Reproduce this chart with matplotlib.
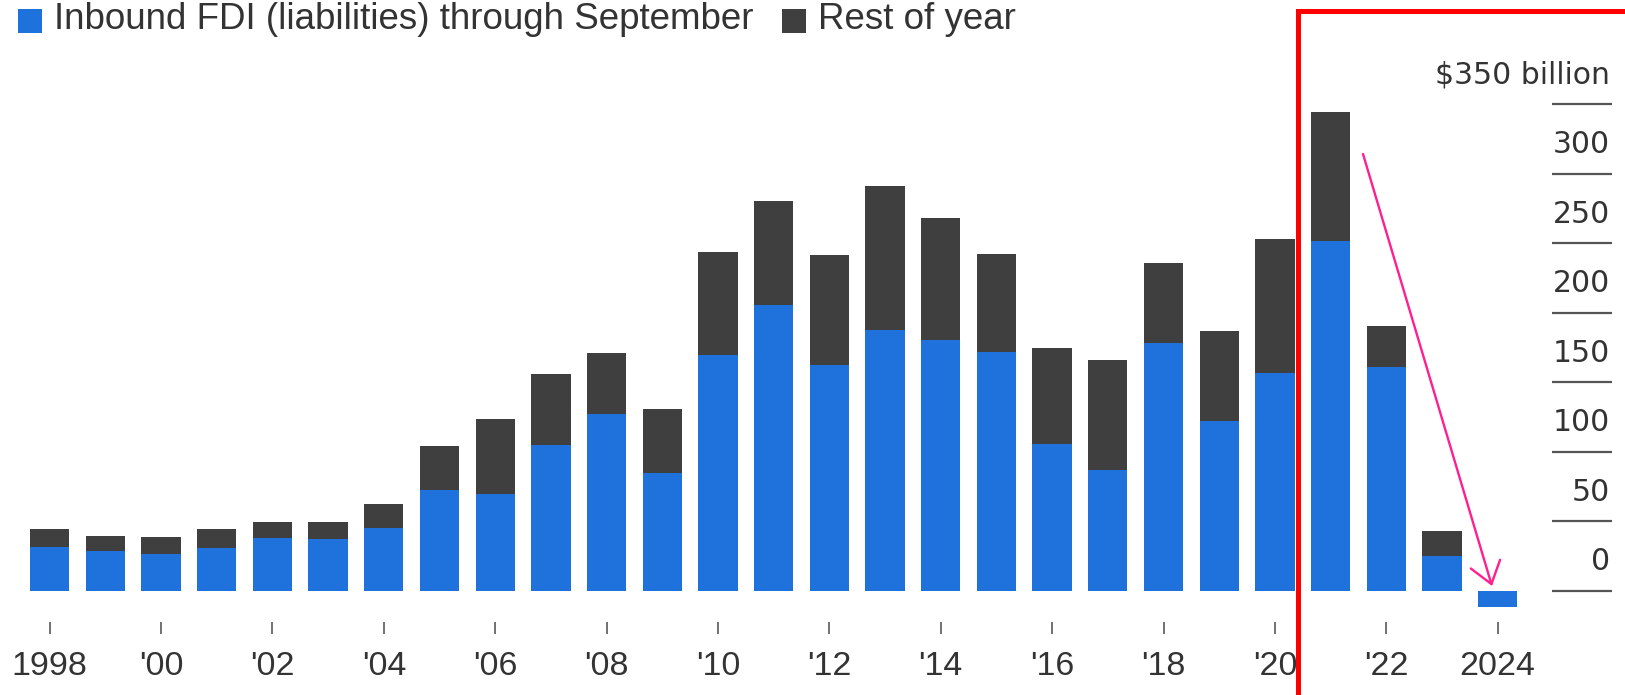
import matplotlib
matplotlib.use("Agg")
import matplotlib.pyplot as plt
from matplotlib.patches import Rectangle, FancyArrowPatch, ArrowStyle

# Inbound FDI (liabilities), $ billion
years = list(range(1998, 2025))
through_september = [31.1, 28.6, 26.0, 30.3, 37.5, 37.0, 45.2, 72.2, 69.2, 105.1,
                     127.4, 84.3, 169.3, 205.2, 162.6, 187.3, 180.1, 171.5, 105.8, 87.1,
                     178.1, 122.1, 156.6, 251.5, 160.9, 25.0, -11.6]
rest_of_year = [13.1, 10.4, 12.7, 13.9, 12.0, 12.5, 16.8, 31.9, 54.6, 51.0,
                43.8, 46.2, 74.3, 75.0, 78.6, 103.7, 87.9, 70.9, 68.8, 78.6,
                57.6, 64.7, 96.6, 92.7, 29.5, 17.8, 0.0]
tick_years = list(range(1998, 2025, 2))
tick_labels = ["1998"] + ["'%02d" % (y % 100) for y in tick_years[1:-1]] + ["2024"]
y_values = [0, 50, 100, 150, 200, 250, 300, 350]
y_labels = ["0", "50", "100", "150", "200", "250", "300", "$350 billion"]

BLUE = "#1f72dc"
DARK = "#3f3f3f"
TEXT = "#333333"
W, H = 1625, 695

fig = plt.figure(figsize=(W / 100, H / 100), dpi=100)
fig.patch.set_facecolor("white")


def fxy(px, py):
    """Pixel position (from top-left) to figure fraction."""
    return px / W, 1 - py / H


# plot area: x maps bar centres, y maps values
zero_px, ppu = 590.6, 1.39
axis_bottom_px = 621.7
x0_px, step_px = 49.7, 55.69
ax = fig.add_axes([0, 1 - axis_bottom_px / H, 1, axis_bottom_px / H])
ax.set_xlim(1998 - x0_px / step_px, 1998 + (W - x0_px) / step_px)
ax.set_ylim(-(axis_bottom_px - zero_px) / ppu, zero_px / ppu)
ax.set_facecolor("none")
for s in ax.spines.values():
    s.set_visible(False)

ax.bar(years, through_september, width=0.706, color=BLUE, linewidth=0)
ax.bar(years, rest_of_year, bottom=[max(v, 0) for v in through_september],
       width=0.706, color=DARK, linewidth=0)

ax.set_xticks(tick_years)
ax.set_xticklabels(tick_labels, family=["Liberation Sans", "DejaVu Sans"],
                   fontsize=24.5, color=TEXT)
ax.tick_params(axis="x", direction="out", length=8.4, width=1.3,
               color="#666666", pad=13)
ax.set_yticks([])

# right-hand value scale: short rules with labels sitting above them
ytrans = ax.get_yaxis_transform()
for v, lab in zip(y_values, y_labels):
    ax.plot([1551.5 / W, 1611.6 / W], [v, v], transform=ytrans,
            color="#555555", lw=1.6, solid_capstyle="butt", clip_on=False)
    ax.annotate(lab, xy=(1610 / W, v), xycoords=ytrans, xytext=(0, 20.8),
                textcoords="offset points", ha="right", va="center",
                fontsize=21.5, color=TEXT, family="DejaVu Sans")

# legend
for (sx, label, col) in [(18, "Inbound FDI (liabilities) through September", BLUE),
                         (782, "Rest of year", DARK)]:
    fx, fy = fxy(sx, 33)
    fig.add_artist(Rectangle((fx, fy), 24 / W, 24 / H, transform=fig.transFigure,
                             facecolor=col, edgecolor="none"))
    tx, ty = fxy(sx + 36, 29)
    fig.text(tx, ty, label, ha="left", va="baseline", fontsize=26.5,
             color=TEXT, family=["Liberation Sans", "DejaVu Sans"])

# highlight box and arrow
bx, by = fxy(1297.5, 10.9)
fig.add_artist(Rectangle((bx, by - 1.2), 0.5, 1.2, transform=fig.transFigure,
                         facecolor="none", edgecolor="#ff0000", lw=3.6,
                         clip_on=False))
arrow = FancyArrowPatch(fxy(1363, 154), fxy(1492, 586),
                        transform=fig.transFigure,
                        arrowstyle=ArrowStyle("->", head_length=0.75, head_width=0.55),
                        mutation_scale=20, color="#ff1f8f", lw=1.7,
                        shrinkA=0, shrinkB=0)
fig.add_artist(arrow)

fig.savefig("out.png", dpi=100)
